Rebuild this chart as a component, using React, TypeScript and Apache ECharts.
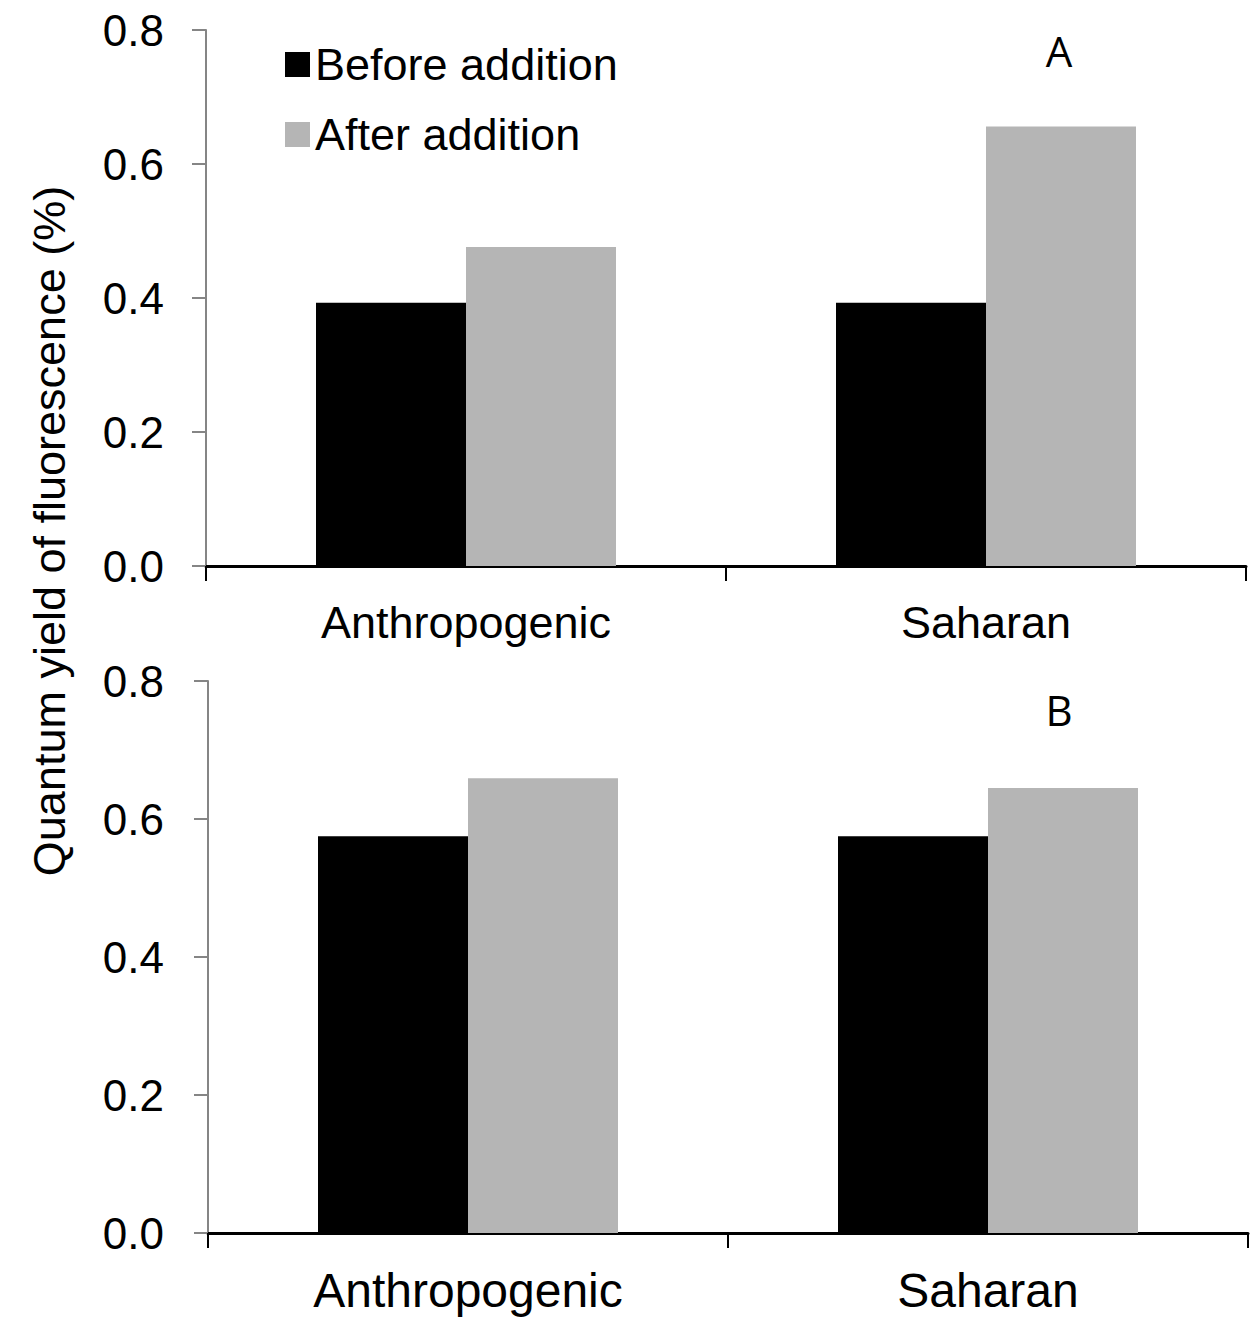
import React, { useEffect, useRef } from "react";
import * as echarts from "echarts";

const categories = ["Anthropogenic", "Saharan"];
const seriesNames = ["Before addition", "After addition"];
const panelABefore = [0.393, 0.393];
const panelAAfter = [0.476, 0.656];
const panelBBefore = [0.575, 0.575];
const panelBAfter = [0.659, 0.645];
const panelLabels = ["A", "B"];
const yAxisTitle = "Quantum yield of fluorescence (%)";
const yMin = 0;
const yMax = 0.8;
const yStep = 0.2;

const FONT = "'Liberation Sans', Arial, Helvetica, sans-serif";
const BLACK = "#000000";
const GREY = "#b5b5b5";
const AXIS_GREY = "#858585";

export default function App() {
  const ref = useRef<HTMLDivElement>(null);

  useEffect(() => {
    if (!ref.current) return;
    const chart = echarts.init(ref.current, null, { renderer: "svg" });

    const xAxisBase = (gridIndex: number, fontSize: number, margin: number) => ({
      type: "category",
      gridIndex,
      data: categories,
      boundaryGap: true,
      axisLine: { show: true, lineStyle: { color: BLACK, width: 3 } },
      axisTick: { show: true, length: 15, alignWithLabel: false, lineStyle: { color: BLACK, width: 2 } },
      axisLabel: { interval: 0, color: BLACK, fontSize, fontFamily: FONT, margin },
      splitLine: { show: false },
    });

    const yAxisBase = (gridIndex: number, margin: number) => ({
      type: "value",
      gridIndex,
      min: yMin,
      max: yMax,
      interval: yStep,
      axisLine: { show: true, lineStyle: { color: AXIS_GREY, width: 2 } },
      axisTick: { show: true, length: 14, lineStyle: { color: AXIS_GREY, width: 2 } },
      axisLabel: {
        color: BLACK,
        fontSize: 44,
        fontFamily: FONT,
        margin,
        padding: [8, 0, 0, 0],
        formatter: (v: number) => v.toFixed(1),
      },
      splitLine: { show: false },
    });

    const bar = (name: string, data: number[], color: string, idx: number) => ({
      name,
      type: "bar",
      xAxisIndex: idx,
      yAxisIndex: idx,
      data,
      barWidth: 150,
      barGap: "0%",
      itemStyle: { color },
    });

    chart.setOption({
      animation: false,
      backgroundColor: "#ffffff",
      grid: [
        { left: 206, top: 30, width: 1040, height: 536, containLabel: false },
        { left: 208, top: 681, width: 1040, height: 552, containLabel: false },
      ],
      xAxis: [xAxisBase(0, 45, 34), xAxisBase(1, 48, 33)],
      yAxis: [yAxisBase(0, 42), yAxisBase(1, 44)],
      legend: {
        orient: "vertical",
        left: 280,
        top: 37,
        itemWidth: 25,
        itemHeight: 25,
        itemGap: 25,
        icon: "rect",
        data: seriesNames,
        textStyle: { color: BLACK, fontSize: 45, fontFamily: FONT },
        selectedMode: false,
      },
      series: [
        bar(seriesNames[0], panelABefore, BLACK, 0),
        bar(seriesNames[1], panelAAfter, GREY, 0),
        bar(seriesNames[0], panelBBefore, BLACK, 1),
        bar(seriesNames[1], panelBAfter, GREY, 1),
      ],
      graphic: [
        {
          type: "text",
          x: 49,
          y: 531,
          rotation: Math.PI / 2,
          style: {
            text: yAxisTitle,
            fontSize: 45,
            fontFamily: FONT,
            fill: BLACK,
            textAlign: "center",
            textVerticalAlign: "middle",
          },
        },
        {
          type: "text",
          x: 1059,
          y: 50,
          style: {
            text: panelLabels[0],
            fontSize: 42,
            fontFamily: "'Open Sans', 'Noto Sans', sans-serif",
            fill: BLACK,
            textAlign: "center",
            textVerticalAlign: "middle",
          },
        },
        {
          type: "text",
          x: 1059,
          y: 709,
          style: {
            text: panelLabels[1],
            fontSize: 42,
            fontFamily: "'Open Sans', 'Noto Sans', sans-serif",
            fill: BLACK,
            textAlign: "center",
            textVerticalAlign: "middle",
          },
        },
      ],
    });

    return () => chart.dispose();
  }, []);

  return (
    <div
      ref={ref}
      style={{ position: "absolute", left: 0, top: 0, width: 1260, height: 1336, background: "#fff" }}
    />
  );
}
